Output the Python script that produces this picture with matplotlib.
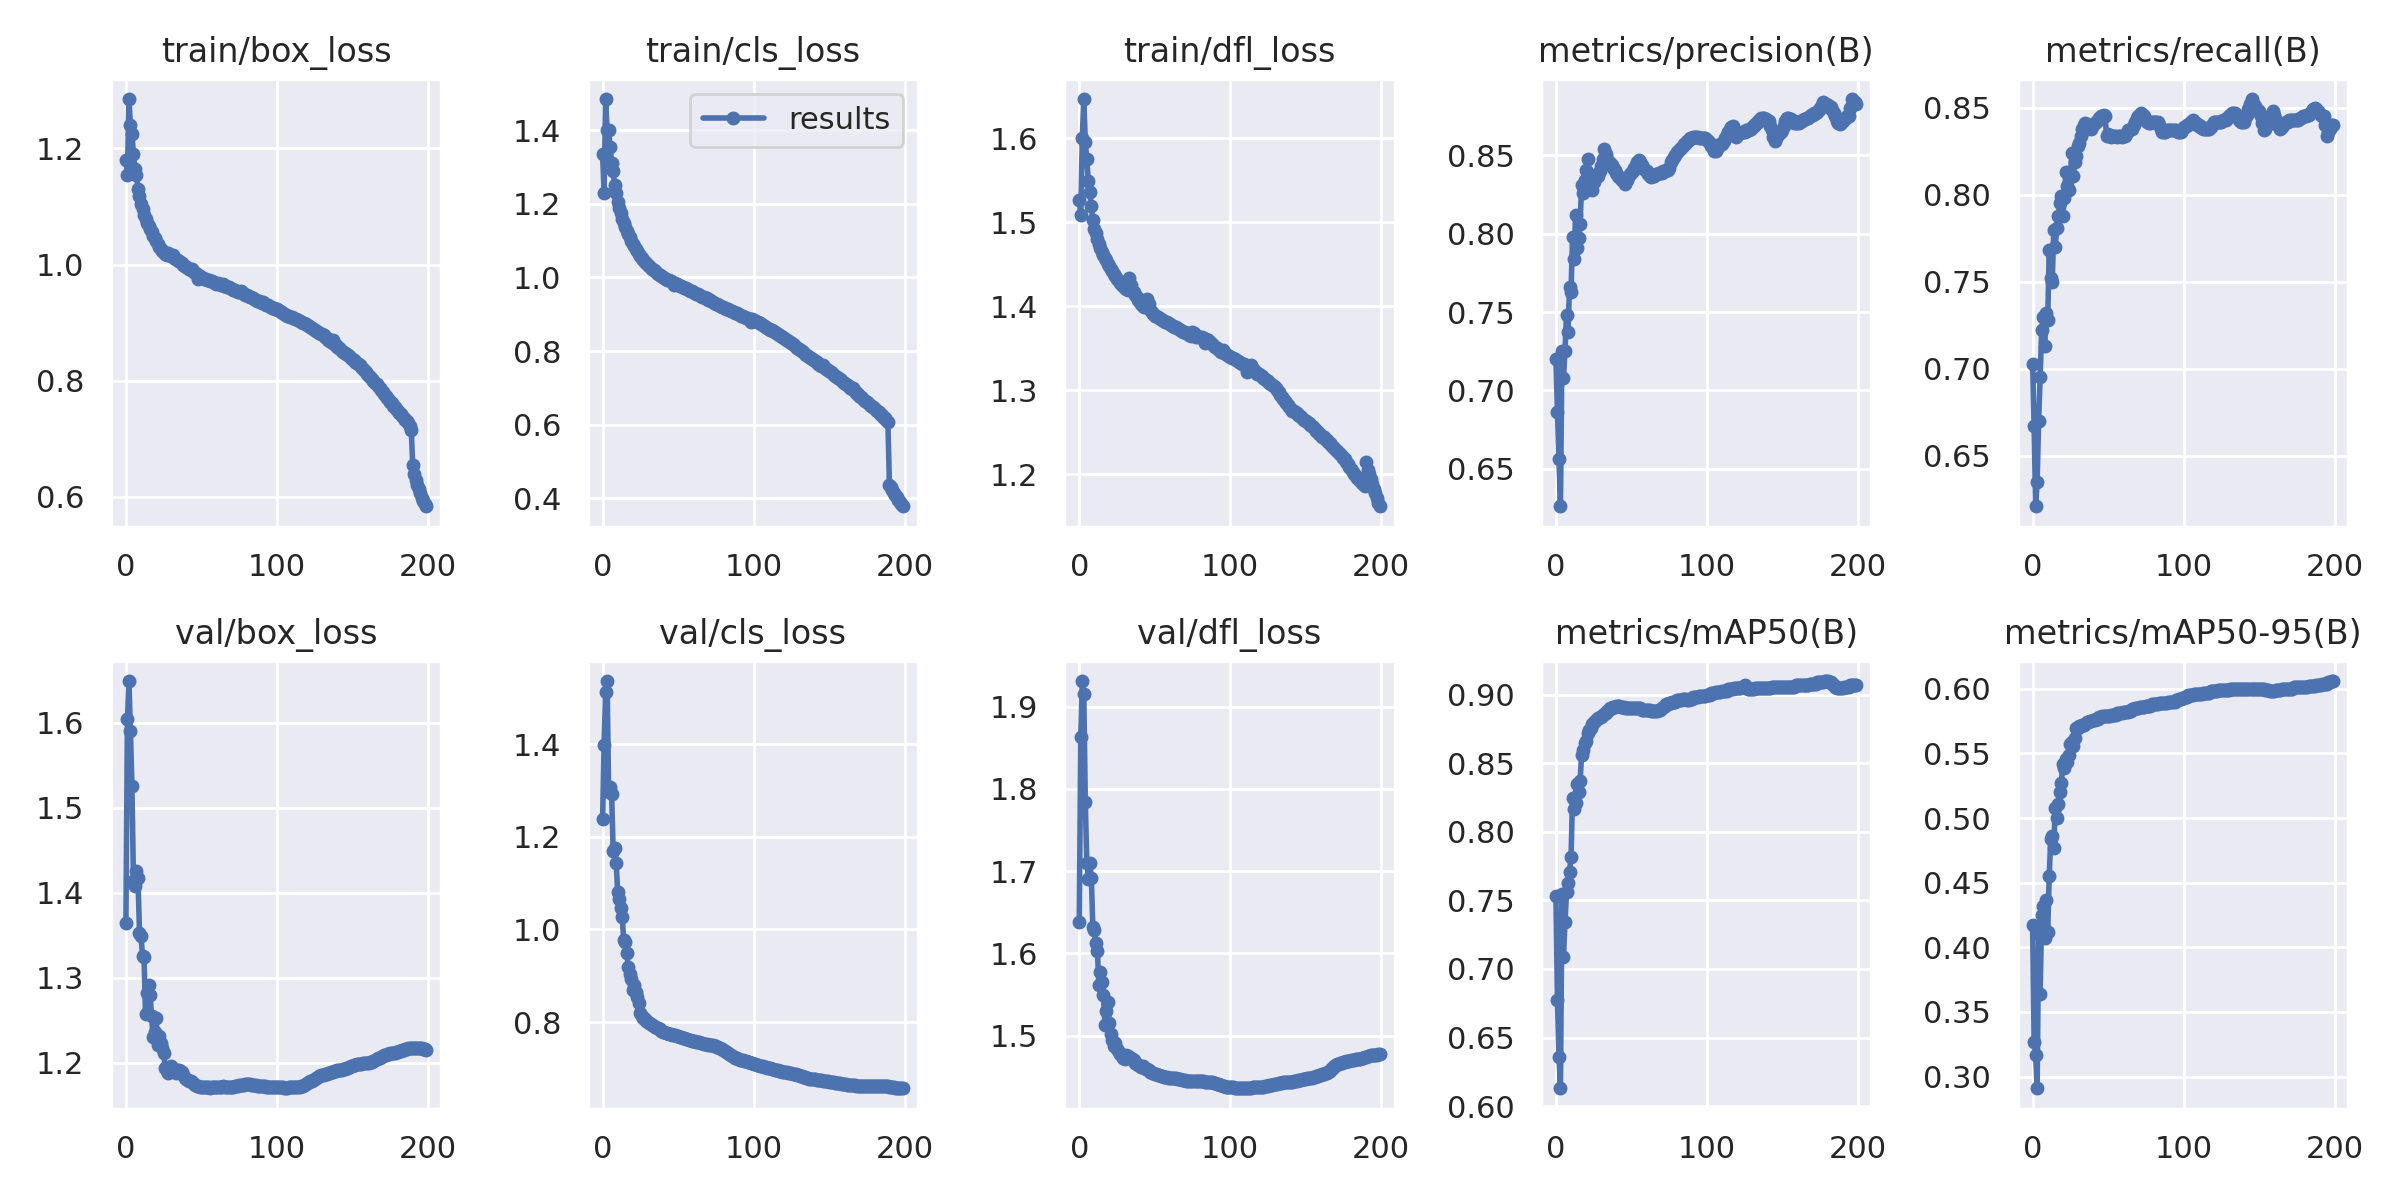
import numpy as np
import matplotlib
matplotlib.use('Agg')
import matplotlib.pyplot as plt
import seaborn as sns

# epochs of the training run
epochs = np.arange(200)

titles = ['train/box_loss', 'train/cls_loss', 'train/dfl_loss', 'metrics/precision(B)', 'metrics/recall(B)',
          'val/box_loss', 'val/cls_loss', 'val/dfl_loss', 'metrics/mAP50(B)', 'metrics/mAP50-95(B)']

train_box = [
    1.180, 1.155, 1.285, 1.240, 1.225, 1.190, 1.165, 1.155, 1.130, 1.118,
    1.105, 1.095, 1.086, 1.078, 1.072, 1.066, 1.061, 1.056, 1.050, 1.045,
    1.040, 1.036, 1.031, 1.027, 1.024, 1.021, 1.019, 1.017, 1.020, 1.016,
    1.014, 1.016, 1.012, 1.010, 1.008, 1.006, 1.004, 1.002, 1.000, 0.998,
    0.996, 0.994, 0.992, 0.990, 0.992, 0.987, 0.985, 0.983, 0.976, 0.981,
    0.979, 0.977, 0.976, 0.975, 0.974, 0.973, 0.972, 0.971, 0.970, 0.969,
    0.967, 0.968, 0.966, 0.965, 0.966, 0.964, 0.963, 0.962, 0.961, 0.960,
    0.958, 0.957, 0.956, 0.955, 0.953, 0.952, 0.954, 0.952, 0.950, 0.948,
    0.947, 0.946, 0.944, 0.945, 0.942, 0.940, 0.939, 0.937, 0.938, 0.935,
    0.934, 0.936, 0.933, 0.931, 0.930, 0.928, 0.927, 0.926, 0.925, 0.924,
    0.923, 0.921, 0.920, 0.918, 0.917, 0.915, 0.914, 0.912, 0.911, 0.910,
    0.909, 0.908, 0.907, 0.906, 0.905, 0.903, 0.902, 0.900, 0.899, 0.897,
    0.896, 0.894, 0.893, 0.891, 0.889, 0.887, 0.886, 0.884, 0.882, 0.880,
    0.880, 0.878, 0.876, 0.873, 0.871, 0.869, 0.867, 0.870, 0.864, 0.861,
    0.858, 0.856, 0.854, 0.852, 0.850, 0.848, 0.846, 0.844, 0.842, 0.840,
    0.837, 0.835, 0.833, 0.831, 0.829, 0.827, 0.824, 0.821, 0.818, 0.815,
    0.812, 0.809, 0.806, 0.803, 0.800, 0.797, 0.794, 0.791, 0.787, 0.784,
    0.781, 0.777, 0.774, 0.771, 0.767, 0.764, 0.761, 0.757, 0.754, 0.751,
    0.748, 0.745, 0.742, 0.739, 0.736, 0.733, 0.730, 0.727, 0.722, 0.716,
    0.655, 0.640, 0.630, 0.621, 0.613, 0.606, 0.599, 0.593, 0.588, 0.584]

train_cls = [
    1.335, 1.230, 1.485, 1.400, 1.400, 1.355, 1.310, 1.290, 1.250, 1.230,
    1.205, 1.190, 1.175, 1.160, 1.148, 1.137, 1.127, 1.118, 1.109, 1.100,
    1.092, 1.085, 1.078, 1.071, 1.064, 1.058, 1.053, 1.048, 1.043, 1.039,
    1.035, 1.031, 1.027, 1.023, 1.020, 1.017, 1.013, 1.010, 1.007, 1.004,
    1.001, 0.998, 0.996, 0.994, 0.992, 0.990, 0.988, 0.980, 0.984, 0.982,
    0.980, 0.978, 0.976, 0.974, 0.972, 0.970, 0.968, 0.966, 0.964, 0.962,
    0.960, 0.958, 0.956, 0.954, 0.952, 0.950, 0.948, 0.946, 0.945, 0.943,
    0.940, 0.938, 0.936, 0.933, 0.931, 0.929, 0.927, 0.925, 0.923, 0.921,
    0.919, 0.917, 0.915, 0.913, 0.911, 0.910, 0.908, 0.906, 0.904, 0.902,
    0.900, 0.898, 0.896, 0.895, 0.893, 0.891, 0.889, 0.887, 0.880, 0.886,
    0.884, 0.882, 0.880, 0.878, 0.875, 0.873, 0.871, 0.868, 0.866, 0.863,
    0.861, 0.858, 0.856, 0.854, 0.851, 0.849, 0.846, 0.843, 0.841, 0.838,
    0.836, 0.833, 0.830, 0.827, 0.824, 0.821, 0.818, 0.815, 0.812, 0.808,
    0.805, 0.802, 0.799, 0.796, 0.793, 0.790, 0.787, 0.784, 0.781, 0.778,
    0.775, 0.772, 0.769, 0.766, 0.763, 0.760, 0.762, 0.754, 0.751, 0.748,
    0.745, 0.742, 0.739, 0.736, 0.733, 0.730, 0.727, 0.724, 0.721, 0.717,
    0.714, 0.711, 0.707, 0.704, 0.700, 0.697, 0.700, 0.690, 0.686, 0.682,
    0.679, 0.675, 0.672, 0.668, 0.665, 0.661, 0.658, 0.654, 0.651, 0.647,
    0.644, 0.640, 0.636, 0.633, 0.629, 0.625, 0.621, 0.617, 0.612, 0.607,
    0.437, 0.430, 0.422, 0.415, 0.408, 0.402, 0.396, 0.390, 0.384, 0.378]

train_dfl = [
    1.527, 1.509, 1.600, 1.647, 1.596, 1.575, 1.549, 1.536, 1.520, 1.503,
    1.492, 1.487, 1.480, 1.474, 1.469, 1.465, 1.461, 1.458, 1.455, 1.451,
    1.448, 1.445, 1.442, 1.439, 1.436, 1.433, 1.430, 1.428, 1.426, 1.424,
    1.422, 1.421, 1.419, 1.434, 1.425, 1.420, 1.417, 1.414, 1.411, 1.408,
    1.405, 1.403, 1.401, 1.399, 1.404, 1.409, 1.403, 1.396, 1.393, 1.391,
    1.389, 1.388, 1.387, 1.386, 1.385, 1.384, 1.383, 1.382, 1.381, 1.380,
    1.379, 1.378, 1.377, 1.376, 1.375, 1.374, 1.373, 1.372, 1.371, 1.370,
    1.369, 1.368, 1.367, 1.366, 1.365, 1.370, 1.368, 1.364, 1.365, 1.364,
    1.364, 1.363, 1.362, 1.356, 1.361, 1.360, 1.359, 1.357, 1.355, 1.353,
    1.352, 1.350, 1.349, 1.347, 1.346, 1.348, 1.344, 1.343, 1.342, 1.341,
    1.340, 1.339, 1.338, 1.337, 1.336, 1.335, 1.334, 1.333, 1.332, 1.331,
    1.330, 1.322, 1.328, 1.327, 1.330, 1.325, 1.324, 1.322, 1.320, 1.319,
    1.318, 1.317, 1.315, 1.314, 1.312, 1.311, 1.309, 1.308, 1.306, 1.305,
    1.303, 1.300, 1.298, 1.295, 1.292, 1.290, 1.287, 1.285, 1.282, 1.280,
    1.278, 1.276, 1.276, 1.274, 1.273, 1.271, 1.270, 1.268, 1.266, 1.265,
    1.263, 1.262, 1.261, 1.259, 1.257, 1.256, 1.254, 1.252, 1.250, 1.248,
    1.247, 1.245, 1.244, 1.242, 1.241, 1.239, 1.237, 1.235, 1.233, 1.231,
    1.229, 1.228, 1.226, 1.224, 1.222, 1.220, 1.218, 1.215, 1.212, 1.209,
    1.206, 1.203, 1.200, 1.198, 1.196, 1.194, 1.192, 1.190, 1.188, 1.186,
    1.215, 1.205, 1.200, 1.195, 1.188, 1.182, 1.178, 1.172, 1.166, 1.162]

precision = [
    0.720, 0.686, 0.656, 0.626, 0.725, 0.708, 0.725, 0.748, 0.737, 0.766,
    0.763, 0.798, 0.784, 0.812, 0.791, 0.797, 0.806, 0.831, 0.826, 0.834,
    0.841, 0.848, 0.836, 0.830, 0.828, 0.833, 0.836, 0.838, 0.837, 0.840,
    0.843, 0.848, 0.854, 0.851, 0.848, 0.846, 0.845, 0.844, 0.842, 0.841,
    0.839, 0.837, 0.836, 0.835, 0.834, 0.833, 0.832, 0.834, 0.836, 0.838,
    0.839, 0.840, 0.842, 0.844, 0.846, 0.847, 0.846, 0.844, 0.842, 0.841,
    0.840, 0.838, 0.837, 0.836, 0.837, 0.837, 0.838, 0.838, 0.839, 0.839,
    0.839, 0.840, 0.840, 0.841, 0.841, 0.842, 0.846, 0.847, 0.849, 0.850,
    0.852, 0.853, 0.854, 0.855, 0.856, 0.857, 0.858, 0.859, 0.860, 0.861,
    0.861, 0.862, 0.862, 0.862, 0.862, 0.861, 0.861, 0.861, 0.861, 0.861,
    0.860, 0.859, 0.858, 0.856, 0.855, 0.853, 0.853, 0.855, 0.856, 0.857,
    0.857, 0.859, 0.861, 0.863, 0.865, 0.867, 0.868, 0.869, 0.866, 0.862,
    0.863, 0.864, 0.864, 0.865, 0.865, 0.865, 0.866, 0.866, 0.866, 0.867,
    0.868, 0.869, 0.870, 0.871, 0.872, 0.873, 0.874, 0.874, 0.874, 0.873,
    0.872, 0.872, 0.869, 0.866, 0.862, 0.859, 0.861, 0.863, 0.864, 0.865,
    0.866, 0.869, 0.872, 0.874, 0.874, 0.873, 0.873, 0.872, 0.871, 0.871,
    0.871, 0.871, 0.872, 0.872, 0.873, 0.873, 0.874, 0.874, 0.875, 0.876,
    0.876, 0.877, 0.877, 0.878, 0.879, 0.880, 0.882, 0.884, 0.883, 0.883,
    0.882, 0.881, 0.881, 0.879, 0.877, 0.875, 0.872, 0.871, 0.870, 0.871,
    0.872, 0.873, 0.874, 0.875, 0.875, 0.880, 0.886, 0.885, 0.884, 0.883]

recall = [
    0.703, 0.667, 0.621, 0.635, 0.670, 0.695, 0.722, 0.730, 0.713, 0.732,
    0.728, 0.768, 0.752, 0.750, 0.780, 0.770, 0.781, 0.788, 0.795, 0.799,
    0.788, 0.798, 0.813, 0.805, 0.803, 0.810, 0.824, 0.811, 0.819, 0.822,
    0.828, 0.830, 0.834, 0.838, 0.840, 0.841, 0.838, 0.839, 0.840, 0.838,
    0.840, 0.841, 0.842, 0.843, 0.844, 0.845, 0.845, 0.846, 0.845, 0.834,
    0.835, 0.834, 0.833, 0.834, 0.834, 0.834, 0.833, 0.834, 0.834, 0.833,
    0.834, 0.834, 0.835, 0.837, 0.837, 0.838, 0.838, 0.840, 0.842, 0.844,
    0.845, 0.846, 0.847, 0.846, 0.845, 0.843, 0.842, 0.841, 0.841, 0.842,
    0.842, 0.842, 0.842, 0.842, 0.840, 0.838, 0.836, 0.836, 0.836, 0.837,
    0.837, 0.837, 0.837, 0.837, 0.837, 0.837, 0.836, 0.836, 0.836, 0.837,
    0.839, 0.839, 0.840, 0.840, 0.841, 0.842, 0.843, 0.842, 0.841, 0.840,
    0.840, 0.839, 0.839, 0.838, 0.838, 0.838, 0.838, 0.838, 0.839, 0.840,
    0.842, 0.842, 0.842, 0.842, 0.842, 0.842, 0.843, 0.843, 0.843, 0.844,
    0.845, 0.846, 0.847, 0.847, 0.847, 0.846, 0.845, 0.843, 0.842, 0.842,
    0.842, 0.844, 0.846, 0.849, 0.852, 0.855, 0.853, 0.851, 0.849, 0.848,
    0.848, 0.845, 0.841, 0.837, 0.838, 0.840, 0.842, 0.844, 0.846, 0.848,
    0.846, 0.843, 0.841, 0.839, 0.838, 0.839, 0.840, 0.841, 0.842, 0.842,
    0.843, 0.843, 0.843, 0.843, 0.843, 0.843, 0.843, 0.844, 0.844, 0.845,
    0.845, 0.845, 0.846, 0.846, 0.847, 0.848, 0.849, 0.850, 0.849, 0.848,
    0.847, 0.846, 0.845, 0.845, 0.840, 0.834, 0.836, 0.838, 0.840, 0.840]

val_box = [
    1.364, 1.604, 1.649, 1.590, 1.525, 1.414, 1.408, 1.426, 1.417, 1.353,
    1.349, 1.326, 1.324, 1.257, 1.282, 1.291, 1.280, 1.255, 1.230, 1.236,
    1.253, 1.221, 1.232, 1.223, 1.217, 1.211, 1.194, 1.190, 1.188, 1.192,
    1.196, 1.193, 1.190, 1.188, 1.191, 1.192, 1.190, 1.189, 1.186, 1.182,
    1.181, 1.180, 1.179, 1.178, 1.177, 1.175, 1.174, 1.173, 1.173, 1.172,
    1.172, 1.172, 1.171, 1.171, 1.171, 1.171, 1.170, 1.171, 1.171, 1.171,
    1.171, 1.171, 1.172, 1.172, 1.173, 1.172, 1.171, 1.171, 1.171, 1.172,
    1.172, 1.172, 1.173, 1.173, 1.173, 1.174, 1.174, 1.174, 1.174, 1.175,
    1.175, 1.175, 1.175, 1.174, 1.174, 1.174, 1.174, 1.173, 1.173, 1.173,
    1.173, 1.173, 1.173, 1.172, 1.172, 1.172, 1.172, 1.172, 1.172, 1.171,
    1.171, 1.171, 1.171, 1.171, 1.171, 1.170, 1.170, 1.170, 1.171, 1.171,
    1.171, 1.171, 1.172, 1.172, 1.172, 1.172, 1.173, 1.173, 1.174, 1.175,
    1.176, 1.177, 1.178, 1.179, 1.180, 1.181, 1.182, 1.183, 1.184, 1.185,
    1.186, 1.186, 1.187, 1.187, 1.188, 1.188, 1.189, 1.189, 1.190, 1.190,
    1.191, 1.191, 1.192, 1.192, 1.193, 1.193, 1.194, 1.194, 1.195, 1.196,
    1.196, 1.197, 1.197, 1.198, 1.198, 1.199, 1.199, 1.200, 1.200, 1.200,
    1.200, 1.200, 1.201, 1.201, 1.202, 1.203, 1.204, 1.205, 1.206, 1.207,
    1.208, 1.209, 1.209, 1.210, 1.210, 1.211, 1.211, 1.212, 1.212, 1.213,
    1.213, 1.214, 1.214, 1.215, 1.215, 1.216, 1.216, 1.217, 1.217, 1.217,
    1.217, 1.217, 1.217, 1.217, 1.217, 1.217, 1.217, 1.216, 1.216, 1.215]

val_cls = [
    1.238, 1.398, 1.513, 1.536, 1.296, 1.308, 1.292, 1.169, 1.175, 1.144,
    1.081, 1.065, 1.046, 1.027, 0.977, 0.973, 0.950, 0.919, 0.904, 0.892,
    0.869, 0.880, 0.865, 0.855, 0.842, 0.819, 0.812, 0.808, 0.806, 0.803,
    0.800, 0.798, 0.796, 0.794, 0.792, 0.790, 0.788, 0.786, 0.784, 0.781,
    0.779, 0.778, 0.777, 0.776, 0.775, 0.774, 0.773, 0.772, 0.771, 0.770,
    0.769, 0.768, 0.767, 0.766, 0.765, 0.764, 0.763, 0.762, 0.761, 0.760,
    0.759, 0.758, 0.757, 0.757, 0.756, 0.755, 0.754, 0.753, 0.753, 0.752,
    0.751, 0.751, 0.750, 0.750, 0.749, 0.748, 0.746, 0.744, 0.743, 0.741,
    0.739, 0.737, 0.735, 0.733, 0.731, 0.729, 0.727, 0.725, 0.723, 0.722,
    0.721, 0.719, 0.718, 0.717, 0.716, 0.715, 0.714, 0.713, 0.712, 0.711,
    0.710, 0.709, 0.708, 0.707, 0.706, 0.705, 0.704, 0.703, 0.702, 0.701,
    0.700, 0.700, 0.699, 0.698, 0.697, 0.697, 0.696, 0.695, 0.694, 0.693,
    0.692, 0.692, 0.691, 0.690, 0.689, 0.689, 0.688, 0.688, 0.687, 0.686,
    0.685, 0.684, 0.683, 0.682, 0.681, 0.680, 0.679, 0.678, 0.677, 0.677,
    0.676, 0.676, 0.675, 0.675, 0.674, 0.674, 0.673, 0.673, 0.672, 0.672,
    0.671, 0.671, 0.670, 0.670, 0.669, 0.669, 0.668, 0.668, 0.667, 0.667,
    0.666, 0.666, 0.665, 0.665, 0.664, 0.664, 0.663, 0.663, 0.662, 0.662,
    0.662, 0.662, 0.662, 0.662, 0.662, 0.662, 0.662, 0.662, 0.662, 0.662,
    0.662, 0.662, 0.662, 0.662, 0.662, 0.662, 0.662, 0.661, 0.661, 0.661,
    0.660, 0.660, 0.659, 0.659, 0.658, 0.658, 0.658, 0.657, 0.657, 0.657]

val_dfl = [
    1.638, 1.863, 1.931, 1.915, 1.784, 1.710, 1.690, 1.710, 1.692, 1.632,
    1.628, 1.612, 1.603, 1.562, 1.577, 1.565, 1.549, 1.513, 1.530, 1.541,
    1.515, 1.502, 1.495, 1.487, 1.491, 1.484, 1.480, 1.478, 1.476, 1.473,
    1.471, 1.476, 1.475, 1.474, 1.473, 1.472, 1.470, 1.467, 1.465, 1.464,
    1.463, 1.462, 1.463, 1.461, 1.460, 1.459, 1.458, 1.456, 1.455, 1.454,
    1.453, 1.453, 1.452, 1.452, 1.451, 1.451, 1.450, 1.450, 1.450, 1.449,
    1.449, 1.449, 1.448, 1.448, 1.448, 1.447, 1.447, 1.447, 1.446, 1.446,
    1.446, 1.445, 1.445, 1.445, 1.445, 1.445, 1.445, 1.445, 1.445, 1.445,
    1.445, 1.445, 1.445, 1.444, 1.444, 1.444, 1.444, 1.443, 1.443, 1.442,
    1.442, 1.441, 1.441, 1.440, 1.440, 1.439, 1.439, 1.438, 1.438, 1.438,
    1.437, 1.437, 1.437, 1.436, 1.436, 1.436, 1.436, 1.436, 1.436, 1.436,
    1.436, 1.436, 1.436, 1.436, 1.436, 1.437, 1.437, 1.437, 1.437, 1.438,
    1.438, 1.438, 1.438, 1.439, 1.439, 1.439, 1.440, 1.440, 1.440, 1.441,
    1.441, 1.441, 1.442, 1.442, 1.442, 1.443, 1.443, 1.443, 1.444, 1.444,
    1.444, 1.444, 1.445, 1.445, 1.445, 1.446, 1.446, 1.446, 1.447, 1.447,
    1.447, 1.448, 1.448, 1.449, 1.449, 1.450, 1.450, 1.451, 1.451, 1.452,
    1.452, 1.453, 1.453, 1.454, 1.455, 1.456, 1.457, 1.459, 1.461, 1.463,
    1.464, 1.465, 1.466, 1.467, 1.467, 1.468, 1.468, 1.469, 1.469, 1.469,
    1.470, 1.470, 1.470, 1.471, 1.471, 1.472, 1.472, 1.473, 1.473, 1.474,
    1.474, 1.475, 1.475, 1.476, 1.476, 1.477, 1.477, 1.477, 1.478, 1.478]

map50 = [
    0.753, 0.677, 0.636, 0.613, 0.755, 0.709, 0.734, 0.756, 0.763, 0.771,
    0.782, 0.825, 0.817, 0.821, 0.835, 0.829, 0.837, 0.856, 0.860, 0.865,
    0.866, 0.872, 0.874, 0.876, 0.879, 0.880, 0.881, 0.882, 0.883, 0.884,
    0.884, 0.885, 0.886, 0.887, 0.888, 0.889, 0.890, 0.890, 0.891, 0.891,
    0.892, 0.892, 0.892, 0.891, 0.891, 0.891, 0.890, 0.890, 0.890, 0.890,
    0.890, 0.890, 0.890, 0.890, 0.890, 0.890, 0.890, 0.889, 0.889, 0.889,
    0.889, 0.889, 0.889, 0.888, 0.888, 0.888, 0.888, 0.888, 0.889, 0.889,
    0.890, 0.891, 0.892, 0.893, 0.893, 0.894, 0.894, 0.895, 0.895, 0.895,
    0.896, 0.896, 0.896, 0.896, 0.897, 0.897, 0.897, 0.896, 0.896, 0.897,
    0.897, 0.898, 0.898, 0.898, 0.898, 0.899, 0.899, 0.899, 0.899, 0.899,
    0.900, 0.900, 0.900, 0.901, 0.901, 0.901, 0.902, 0.902, 0.902, 0.902,
    0.903, 0.903, 0.903, 0.903, 0.904, 0.904, 0.904, 0.904, 0.905, 0.905,
    0.905, 0.905, 0.905, 0.906, 0.906, 0.907, 0.905, 0.904, 0.904, 0.904,
    0.904, 0.904, 0.905, 0.905, 0.905, 0.905, 0.905, 0.905, 0.905, 0.905,
    0.905, 0.905, 0.905, 0.906, 0.906, 0.906, 0.906, 0.906, 0.906, 0.906,
    0.906, 0.906, 0.906, 0.906, 0.906, 0.906, 0.906, 0.906, 0.906, 0.907,
    0.907, 0.907, 0.907, 0.907, 0.907, 0.907, 0.907, 0.907, 0.908, 0.908,
    0.908, 0.908, 0.908, 0.909, 0.909, 0.909, 0.909, 0.909, 0.910, 0.910,
    0.910, 0.909, 0.909, 0.908, 0.907, 0.906, 0.905, 0.905, 0.905, 0.905,
    0.905, 0.906, 0.906, 0.906, 0.906, 0.907, 0.907, 0.907, 0.907, 0.907]

map50_95 = [
    0.417, 0.327, 0.317, 0.291, 0.410, 0.364, 0.425, 0.432, 0.407, 0.437,
    0.412, 0.455, 0.484, 0.486, 0.477, 0.508, 0.500, 0.511, 0.520, 0.527,
    0.542, 0.539, 0.546, 0.543, 0.549, 0.557, 0.559, 0.556, 0.562, 0.570,
    0.570, 0.571, 0.571, 0.572, 0.572, 0.573, 0.574, 0.574, 0.575, 0.575,
    0.576, 0.576, 0.577, 0.577, 0.578, 0.578, 0.579, 0.579, 0.579, 0.579,
    0.579, 0.579, 0.580, 0.580, 0.580, 0.580, 0.581, 0.581, 0.581, 0.581,
    0.582, 0.582, 0.582, 0.582, 0.583, 0.583, 0.584, 0.584, 0.585, 0.585,
    0.585, 0.586, 0.586, 0.586, 0.586, 0.587, 0.587, 0.587, 0.587, 0.588,
    0.588, 0.588, 0.588, 0.588, 0.589, 0.589, 0.589, 0.589, 0.589, 0.589,
    0.590, 0.590, 0.590, 0.590, 0.590, 0.591, 0.591, 0.592, 0.592, 0.593,
    0.593, 0.594, 0.594, 0.595, 0.595, 0.595, 0.595, 0.596, 0.596, 0.596,
    0.596, 0.596, 0.596, 0.597, 0.597, 0.597, 0.597, 0.597, 0.598, 0.598,
    0.598, 0.598, 0.598, 0.599, 0.599, 0.599, 0.599, 0.599, 0.599, 0.599,
    0.599, 0.600, 0.600, 0.600, 0.600, 0.600, 0.600, 0.600, 0.600, 0.600,
    0.600, 0.600, 0.600, 0.600, 0.600, 0.600, 0.600, 0.600, 0.600, 0.600,
    0.600, 0.600, 0.600, 0.600, 0.599, 0.599, 0.599, 0.598, 0.598, 0.598,
    0.598, 0.599, 0.599, 0.599, 0.599, 0.600, 0.600, 0.600, 0.600, 0.600,
    0.600, 0.600, 0.600, 0.601, 0.601, 0.601, 0.601, 0.601, 0.601, 0.601,
    0.601, 0.601, 0.601, 0.602, 0.602, 0.602, 0.602, 0.602, 0.603, 0.603,
    0.603, 0.603, 0.604, 0.604, 0.604, 0.604, 0.605, 0.605, 0.606, 0.606]

series = [train_box, train_cls, train_dfl, precision, recall,
          val_box, val_cls, val_dfl, map50, map50_95]

sns.set_theme()

fig, ax = plt.subplots(2, 5, figsize=(12, 6), tight_layout=True)
ax = ax.ravel()
for i, (title, y) in enumerate(zip(titles, series)):
    ax[i].plot(epochs, y, marker='.', label='results', linewidth=2, markersize=8)
    ax[i].set_title(title, fontsize=12)

ax[1].legend(loc='upper right')
fig.savefig('out.png', dpi=200)
